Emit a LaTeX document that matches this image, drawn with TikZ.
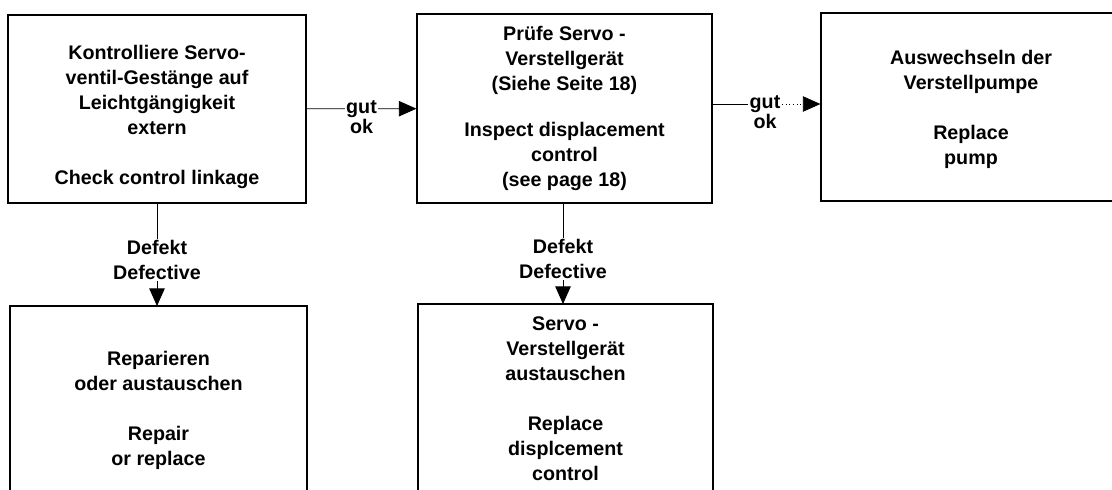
\documentclass[tikz,border=0pt]{standalone}
\usepackage{fontspec}
\setmainfont{Liberation Sans}
\usepackage{tikz}
\usetikzlibrary{arrows.meta}

\begin{document}
\begin{tikzpicture}[x=0.025cm,y=-0.025cm]
    \tikzstyle{every node}=[font=\bfseries\fontsize{14}{17.8}\selectfont,
                            align=center,inner sep=1pt]
    \tikzstyle{box}=[draw,line width=0.8pt,minimum height=4.7cm]
    \tikzstyle{flow}=[line width=0.6pt,-{Triangle[length=12.5pt,width=11pt]}]
    \tikzstyle{tag}=[fill=white]

      \useasboundingbox (0,0) rectangle (1112,489);
      \clip (0,0) rectangle (1112,489);

      % top row
      \node (0) [box,minimum width=7.45cm] at (157,109)
        {\rule{0pt}{21pt}Kontrolliere Servo-\\ventil-Gestänge auf\\Leichtgängigkeit\\extern\\[17.8pt]Check control linkage};
      \node (1) [box,minimum width=7.375cm,minimum height=4.725cm] at (564.5,108.5)
        {Prüfe Servo -\\Verstellgerät\\(Siehe Seite 18)\\[15pt]Inspect displacement\\control\\(see page 18)};
      \node (2) [box,minimum width=7.5cm] at (971,107)
        {\rule{0pt}{14pt}Auswechseln der\\Verstellpumpe\\[17.8pt]Replace\\pump};

      % bottom row (runs off the page)
      \node (3) [box,minimum width=7.425cm,minimum height=5.1cm] at (158.5,408)
        {\rule{0pt}{14pt}Reparieren\\oder austauschen\\[17.8pt]Repair\\or replace};
      \node (4) [box,minimum width=7.375cm,minimum height=4.725cm] at (565.5,398.5)
        {Servo -\\Verstellgerät\\austauschen\\[17.8pt]Replace\\displcement\\control};

      \draw[flow] (0) -- node (g0) [tag,label={[inner sep=0pt]below:ok}] {gut} (1);
      \node (g1) [tag,label={[inner sep=0pt]below:ok}] at (765,104) {gut};
      \draw[line width=0.6pt] (1.east |- g1) -- (g1);
      \draw[flow,dotted] (g1) -- (g1 -| 2.west);

      \draw[flow] (0.south -| 157,0) -- node (d0) [tag,pos=0.55] {Defekt\\Defective} (157,306);
      \draw[flow] (1.south -| 563,0) -- node (d1) [tag,pos=0.55] {Defekt\\Defective} (563,304);
    \end{tikzpicture}
\end{document}
